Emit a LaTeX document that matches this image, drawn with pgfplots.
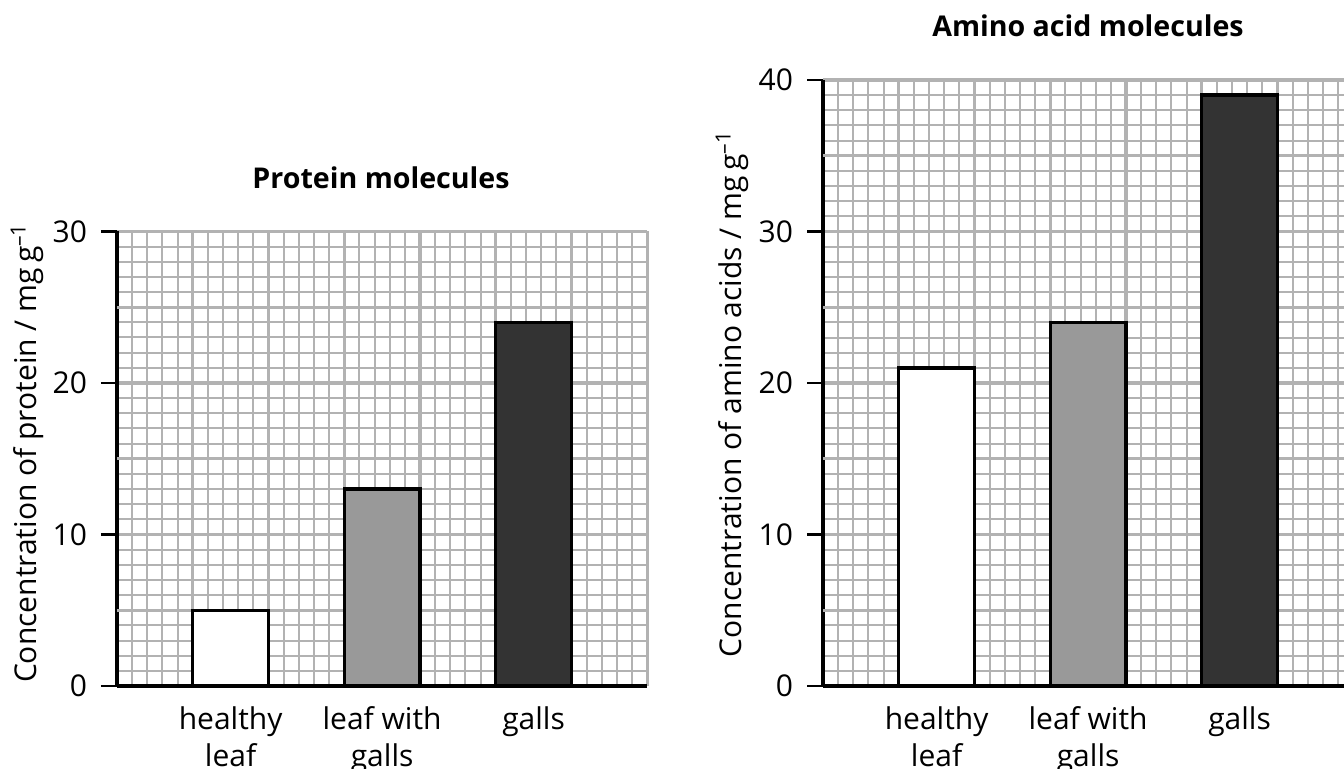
\documentclass[border=0pt]{standalone}
\usepackage{pgfplots}
\pgfplotsset{compat=1.18}
\usepackage{fontspec}
\setmainfont{Open Sans}
\definecolor{gridgray}{HTML}{B2B2B2}
\definecolor{barmid}{HTML}{999999}
\definecolor{bardark}{HTML}{333333}
\newcommand{\lblfont}{\fontsize{15}{18.5}\selectfont}
\newcommand{\ttlfont}{\fontsize{14.3}{17}\selectfont\bfseries}
\pgfplotsset{
  gallgrid/.style={
    scale only axis, anchor=south west, clip=false,
    width=265.1pt,
    xmin=0, xmax=35, ymin=0,
    axis x line=bottom, axis y line=left,
    axis line style={-, black, line width=1.9pt},
    xtick={0,5,...,35}, xticklabels={},
    xtick style={draw=none},
    minor x tick num=4, minor y tick num=9,
    minor tick length=0pt,
    tick align=outside, major tick length=8pt,
    ytick style={black, line width=1.2pt},
    extra y tick style={tick style={draw=none}},
    extra y tick labels={},
    grid=both,
    major grid style={gridgray, line width=1.6pt},
    minor grid style={gridgray, line width=1pt},
    tick label style={font=\lblfont},
    /pgf/number format/assume math mode=true,
    yticklabel style={xshift=-3.5pt},
  },
  gallbar/.style={ybar, bar width=5, bar shift=0pt, draw=black, line width=1.7pt},
}
\tikzset{catlabel/.style={anchor=north, inner sep=0pt, align=center, font=\lblfont, yshift=-10pt}}
\begin{document}
\begin{tikzpicture}
\useasboundingbox (0,0) rectangle (672pt,384.5pt);
\clip (0,0) rectangle (672pt,384.5pt);

% protein
\begin{axis}[gallgrid, name=prot, at={(58.5pt,41.5pt)}, height=227.3pt,
  ymax=30, ytick={0,10,20,30}, extra y ticks={5,15,25}]
  \addplot[gallbar, fill=white] coordinates {(7.5,5)};
  \addplot[gallbar, fill=barmid] coordinates {(17.5,13)};
  \addplot[gallbar, fill=bardark] coordinates {(27.5,24)};
  \node[catlabel] at (axis cs:7.5,0) {healthy\\leaf};
  \node[catlabel] at (axis cs:17.5,0) {leaf with\\galls};
  \node[catlabel] at (axis cs:27.5,0) {galls};
\end{axis}

% amino acids
\begin{axis}[gallgrid, name=amino, at={(411.5pt,41.5pt)}, height=303pt,
  ymax=40, ytick={0,10,20,30,40}, extra y ticks={5,15,25,35}]
  \addplot[gallbar, fill=white] coordinates {(7.5,21)};
  \addplot[gallbar, fill=barmid] coordinates {(17.5,24)};
  \addplot[gallbar, fill=bardark] coordinates {(27.5,39)};
  \node[catlabel] at (axis cs:7.5,0) {healthy\\leaf};
  \node[catlabel] at (axis cs:17.5,0) {leaf with\\galls};
  \node[catlabel] at (axis cs:27.5,0) {galls};
\end{axis}

\node[rotate=90, font=\lblfont] at (13.5pt,158pt) {Concentration of protein / mg\,g\textsuperscript{–1}};
\node[rotate=90, font=\lblfont] at (366pt,187.5pt) {Concentration of amino acids / mg\,g\textsuperscript{–1}};
\node[anchor=base, font=\ttlfont] at (190.5pt,290pt) {Protein molecules};
\node[anchor=base, font=\ttlfont] at (544pt,366pt) {Amino acid molecules};
\end{tikzpicture}
\end{document}
